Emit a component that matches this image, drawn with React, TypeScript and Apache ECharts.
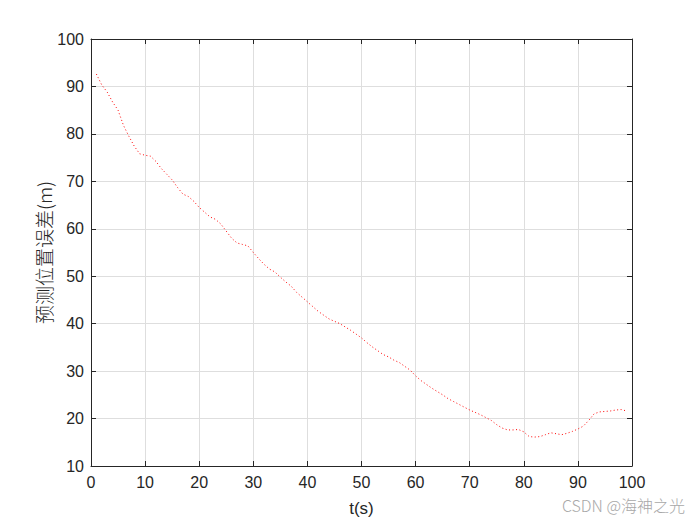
import React, { useEffect, useRef } from "react";
import * as echarts from "echarts";

const tValues: number[] = [
  1, 2, 3, 4, 5, 6, 7, 8, 9, 10, 11, 12, 13, 14, 15, 16, 17, 18, 19, 20,
  21, 22, 23, 24, 25, 26, 27, 28, 29, 30, 31, 32, 33, 34, 35, 36, 37, 38, 39, 40,
  41, 42, 43, 44, 45, 46, 47, 48, 49, 50, 51, 52, 53, 54, 55, 56, 57, 58, 59, 60,
  61, 62, 63, 64, 65, 66, 67, 68, 69, 70, 71, 72, 73, 74, 75, 76, 77, 78, 79, 80,
  81, 82, 83, 84, 85, 86, 87, 88, 89, 90, 91, 92, 93, 94, 95, 96, 97, 98, 99,
];

const errorValues: number[] = [
  92.6, 90.3, 88.8, 86.7, 85.0, 81.8, 79.5, 77.4, 75.8, 75.5,
  75.3, 74.2, 72.7, 71.5, 70.3, 68.7, 67.3, 66.8, 65.8, 64.5,
  63.5, 62.5, 62.0, 61.0, 59.5, 58.0, 57.0, 56.7, 56.4, 55.0,
  53.7, 52.5, 51.5, 50.9, 49.8, 48.8, 47.9, 46.6, 45.6, 44.6,
  43.6, 42.6, 41.8, 41.0, 40.5, 40.0, 39.3, 38.6, 37.8, 37.0,
  36.0, 35.1, 34.3, 33.5, 33.0, 32.3, 31.8, 31.0, 30.2, 29.0,
  28.0, 27.2, 26.4, 25.7, 25.0, 24.2, 23.6, 23.0, 22.4, 21.8,
  21.3, 20.8, 20.2, 19.6, 18.7, 18.0, 17.6, 17.6, 17.7, 17.2,
  16.2, 16.1, 16.2, 16.6, 17.0, 16.8, 16.6, 16.9, 17.3, 17.8,
  18.4, 19.6, 21.0, 21.4, 21.5, 21.6, 21.8, 21.9, 21.6,
];

const xTitle = "t(s)";
const yTitle = "预测位置误差(m)";
const watermark = "CSDN @海神之光";

const AXIS_COLOR = "#262626";
const GRID_COLOR = "#dedede";
const FONT = "'Liberation Sans', Arial, sans-serif";

export default function App() {
  const ref = useRef<HTMLDivElement>(null);

  useEffect(() => {
    if (!ref.current) return;
    const chart = echarts.init(ref.current, undefined, { renderer: "svg" });
    const data = tValues.map((t, i) => [t, errorValues[i]]);

    const axisCommon = {
      type: "value" as const,
      axisLine: { show: true, onZero: false, lineStyle: { color: AXIS_COLOR, width: 1 } },
      axisTick: { show: true, inside: true, length: 5, lineStyle: { color: AXIS_COLOR } },
    };

    chart.setOption({
      animation: false,
      backgroundColor: "#ffffff",
      grid: { left: 91, right: 68, top: 39, bottom: 59, containLabel: false },
      xAxis: [
        {
          ...axisCommon,
          position: "bottom",
          min: 0,
          max: 100,
          interval: 10,
          name: xTitle,
          nameLocation: "middle",
          nameGap: 34,
          nameMoveOverlap: false,
          nameTextStyle: { color: AXIS_COLOR, fontSize: 17, fontFamily: FONT },
          axisLabel: { color: AXIS_COLOR, fontSize: 16, fontFamily: FONT, margin: 8 },
          splitLine: { show: true, lineStyle: { color: GRID_COLOR, width: 1 } },
        },
        {
          ...axisCommon,
          position: "top",
          min: 0,
          max: 100,
          interval: 10,
          axisLabel: { show: false },
          splitLine: { show: false },
        },
      ],
      yAxis: [
        {
          ...axisCommon,
          position: "left",
          min: 10,
          max: 100,
          interval: 10,
          name: yTitle,
          nameLocation: "middle",
          nameGap: 38,
          nameMoveOverlap: false,
          nameTextStyle: {
            color: AXIS_COLOR,
            fontSize: 19,
            fontFamily: "'Noto Sans CJK SC', sans-serif",
            fontWeight: 300,
          },
          axisLabel: { color: AXIS_COLOR, fontSize: 16, fontFamily: FONT, margin: 7 },
          splitLine: { show: true, lineStyle: { color: GRID_COLOR, width: 1 } },
        },
        {
          ...axisCommon,
          position: "right",
          min: 10,
          max: 100,
          interval: 10,
          axisLabel: { show: false },
          splitLine: { show: false },
        },
      ],
      series: [
        {
          type: "line",
          data,
          xAxisIndex: 0,
          yAxisIndex: 0,
          showSymbol: false,
          symbol: "none",
          lineStyle: { color: "#ff0000", width: 1, type: [1, 2.5] },
          z: 5,
        },
      ],
      graphic: [
        {
          type: "text",
          right: 15,
          top: 497,
          style: {
            text: watermark,
            fill: "#a8a8a8",
            fontSize: 16,
            fontFamily: "'Noto Sans CJK SC', sans-serif",
            fontWeight: 300,
          },
        },
      ],
    });

    return () => chart.dispose();
  }, []);

  return <div ref={ref} style={{ width: 700, height: 525, margin: -8 }} />;
}
